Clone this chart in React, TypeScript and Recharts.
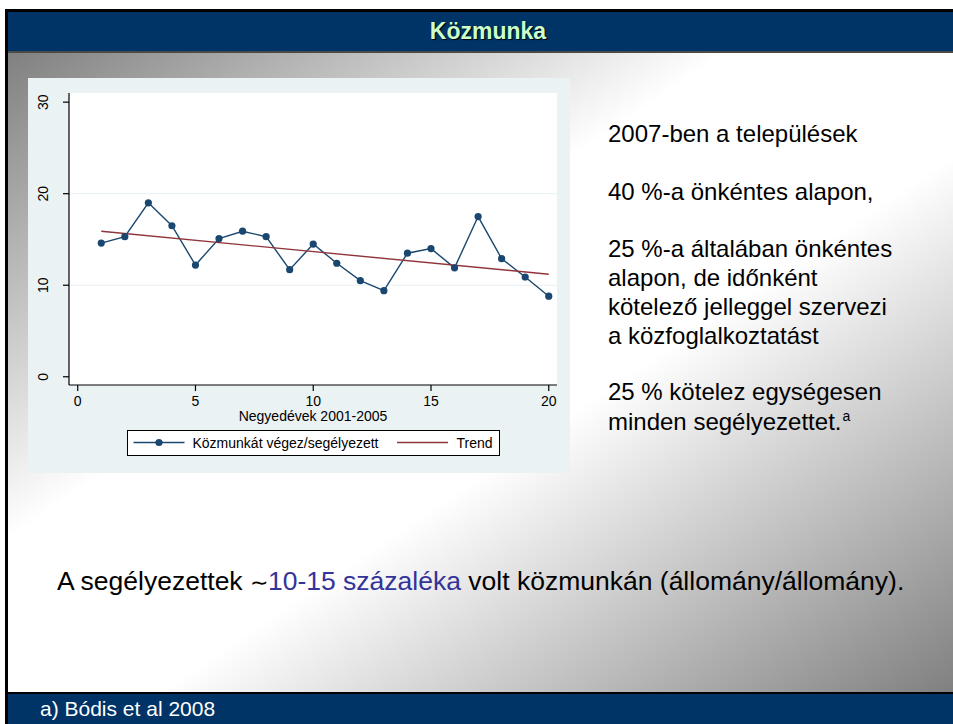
import React from 'react';
import { LineChart, Line, XAxis, YAxis, ReferenceLine, CartesianGrid, Legend, Label } from 'recharts';

// ---- data ----
const quarters = [1, 2, 3, 4, 5, 6, 7, 8, 9, 10, 11, 12, 13, 14, 15, 16, 17, 18, 19, 20];
const kozmunkaValues = [14.6, 15.3, 19.0, 16.5, 12.2, 15.1, 15.9, 15.3, 11.7, 14.5, 12.4, 10.5, 9.4, 13.5, 14.0, 11.9, 17.5, 12.9, 10.9, 8.8];
const trendQuarters = [1, 20];
const trendValues = [15.9, 11.2];
const xTicks = [0, 5, 10, 15, 20];
const yTicks = [0, 10, 20, 30];
const gridValues = [10, 20];
const seriesNames = ['Közmunkát végez/segélyezett', 'Trend'];
const xAxisTitle = 'Negyedévek 2001-2005';
const titleText = 'Közmunka';
const sideLines = [
  '2007-ben a települések',
  '40 %-a önkéntes alapon,',
  '25 %-a általában önkéntes',
  'alapon, de időnként',
  'kötelező jelleggel szervezi',
  'a közfoglalkoztatást',
  '25 % kötelez egységesen',
  'minden segélyezettet.',
];
const sideSuperscript = 'a';
const bottomParts = ['A segélyezettek ', '∼', '10-15 százaléka', ' volt közmunkán (állomány/állomány).'];
const footerText = 'a) Bódis et al 2008';

// ---- layout / style ----
const FONT = '"Liberation Sans", Arial, sans-serif';
const NAVY = '#003366';
const SERIES_BLUE = '#1a476f';
const TREND_RED = '#90353b';
const PANEL_BG = '#eaf2f3';
const sideLineCenters = [133, 191.5, 248, 277.5, 306.5, 335, 391.5, 421.5];

const data = quarters.map((q, i) => ({ q, kozmunka: kozmunkaValues[i] }));
const trendData = trendQuarters.map((q, i) => ({ q, trend: trendValues[i] }));

const YTick = (props: any) => {
  const { y, payload } = props;
  const cx = 15;
  return (
    <text
      x={cx}
      y={y}
      transform={`rotate(-90 ${cx} ${y})`}
      textAnchor="middle"
      dominantBaseline="central"
      fontFamily={FONT}
      fontSize={14}
      fill="#000"
    >
      {payload.value}
    </text>
  );
};

const LegendBox = () => (
  <div
    style={{
      width: 373,
      height: 26,
      boxSizing: 'border-box',
      border: '1px solid #000',
      background: '#fff',
      position: 'relative',
    }}
  >
    <svg width={371} height={24} style={{ position: 'absolute', left: 0, top: 0 }}>
      <line x1={5.5} x2={56.5} y1={11.5} y2={11.5} stroke={SERIES_BLUE} strokeWidth={1.4} />
      <circle cx={31} cy={11.5} r={3.6} fill={SERIES_BLUE} />
      <text x={64.5} y={11.5} dominantBaseline="central" fontFamily={FONT} fontSize={14} fill="#000">
        {seriesNames[0]}
      </text>
      <line x1={269} x2={320} y1={11.5} y2={11.5} stroke={TREND_RED} strokeWidth={1.4} />
      <text x={328.5} y={11.5} dominantBaseline="central" fontFamily={FONT} fontSize={14} fill="#000">
        {seriesNames[1]}
      </text>
    </svg>
  </div>
);

const Chart = () => (
  <div style={{ position: 'absolute', left: 28, top: 78, width: 542, height: 395, background: PANEL_BG }}>
    <LineChart width={542} height={395} data={data} margin={{ top: 15, right: 13, left: 0, bottom: 0 }}>
      <CartesianGrid horizontal={false} vertical={false} fill="#ffffff" />
      {gridValues.map((v) => (
        <ReferenceLine key={v} y={v} stroke={PANEL_BG} strokeWidth={1.2} ifOverflow="hidden" />
      ))}
      <XAxis
        dataKey="q"
        type="number"
        domain={[-0.37, 20.35]}
        ticks={xTicks}
        allowDataOverflow
        height={88}
        tickSize={6}
        tickMargin={5}
        axisLine={{ stroke: '#000', strokeWidth: 1.2 }}
        tickLine={{ stroke: '#000', strokeWidth: 1.2 }}
        tick={{ fill: '#000', fontFamily: FONT, fontSize: 14 }}
      >
        <Label
          value={xAxisTitle}
          position="insideTop"
          offset={26}
          style={{ fill: '#000', fontFamily: FONT, fontSize: 14 }}
        />
      </XAxis>
      <YAxis
        type="number"
        domain={[-0.9, 31]}
        ticks={yTicks}
        allowDataOverflow
        width={41}
        tickSize={6}
        axisLine={{ stroke: '#000', strokeWidth: 1.2 }}
        tickLine={{ stroke: '#000', strokeWidth: 1.2 }}
        tick={YTick}
      />
      <Legend
        layout="horizontal"
        verticalAlign="middle"
        align="center"
        wrapperStyle={{ left: 98.5, top: 351.5, width: 373, height: 26, lineHeight: 'normal' }}
        content={() => <LegendBox />}
      />
      <Line
        dataKey="kozmunka"
        name={seriesNames[0]}
        stroke={SERIES_BLUE}
        strokeWidth={1.4}
        dot={{ r: 3.6, fill: SERIES_BLUE, stroke: SERIES_BLUE, strokeWidth: 0 }}
        activeDot={false}
        isAnimationActive={false}
      />
      <Line
        data={trendData}
        dataKey="trend"
        name={seriesNames[1]}
        stroke={TREND_RED}
        strokeWidth={1.4}
        dot={false}
        activeDot={false}
        isAnimationActive={false}
      />
    </LineChart>
  </div>
);

export default function App() {
  return (
    <div
      style={{
        position: 'absolute',
        left: 0,
        top: 0,
        width: 953,
        height: 724,
        overflow: 'hidden',
        background: '#fff',
        fontFamily: FONT,
      }}
    >
      {/* black frame */}
      <div style={{ position: 'absolute', left: 5, top: 9, width: 948, height: 715, background: '#000' }} />
      {/* title bar */}
      <div style={{ position: 'absolute', left: 8, top: 12, width: 945, height: 39, background: NAVY }} />
      <div style={{ position: 'absolute', left: 8, top: 51, width: 945, height: 2, background: '#4a4a4a' }} />
      <div
        style={{
          position: 'absolute',
          left: 388,
          top: 12,
          width: 200,
          height: 39,
          lineHeight: '39px',
          textAlign: 'center',
          color: '#ccffcc',
          fontWeight: 'bold',
          fontSize: 23,
          textShadow: '1px 1px 1px #000',
        }}
      >
        {titleText}
      </div>
      {/* body */}
      <div
        style={{
          position: 'absolute',
          left: 8,
          top: 53,
          width: 945,
          height: 639,
          background: 'linear-gradient(to bottom right, #808080 0%, #ffffff 38%, #ffffff 58%, #808080 100%)',
        }}
      />
      {/* footer */}
      <div style={{ position: 'absolute', left: 8, top: 694, width: 945, height: 30, background: NAVY }} />
      <div
        style={{
          position: 'absolute',
          left: 40,
          top: 694,
          height: 30,
          lineHeight: '30px',
          color: '#fff',
          fontSize: 21,
          whiteSpace: 'nowrap',
        }}
      >
        {footerText}
      </div>

      <Chart />

      {/* side text */}
      {sideLines.map((line, i) => (
        <div
          key={i}
          style={{
            position: 'absolute',
            left: 608,
            top: sideLineCenters[i] - 14.5,
            height: 29,
            lineHeight: '29px',
            fontSize: 24,
            color: '#000',
            whiteSpace: 'nowrap',
          }}
        >
          {line}
          {i === sideLines.length - 1 && (
            <span style={{ fontSize: 14, position: 'relative', top: -9, marginLeft: 1 }}>{sideSuperscript}</span>
          )}
        </div>
      ))}

      {/* bottom text */}
      <div
        style={{
          position: 'absolute',
          left: 57,
          top: 566,
          height: 30,
          lineHeight: '30px',
          fontSize: 26.5,
          color: '#000',
          whiteSpace: 'nowrap',
        }}
      >
        {bottomParts[0]}
        <span style={{ fontSize: 22 }}>{bottomParts[1]}</span>
        <span style={{ color: '#333399' }}>{bottomParts[2]}</span>
        {bottomParts[3]}
      </div>
    </div>
  );
}
